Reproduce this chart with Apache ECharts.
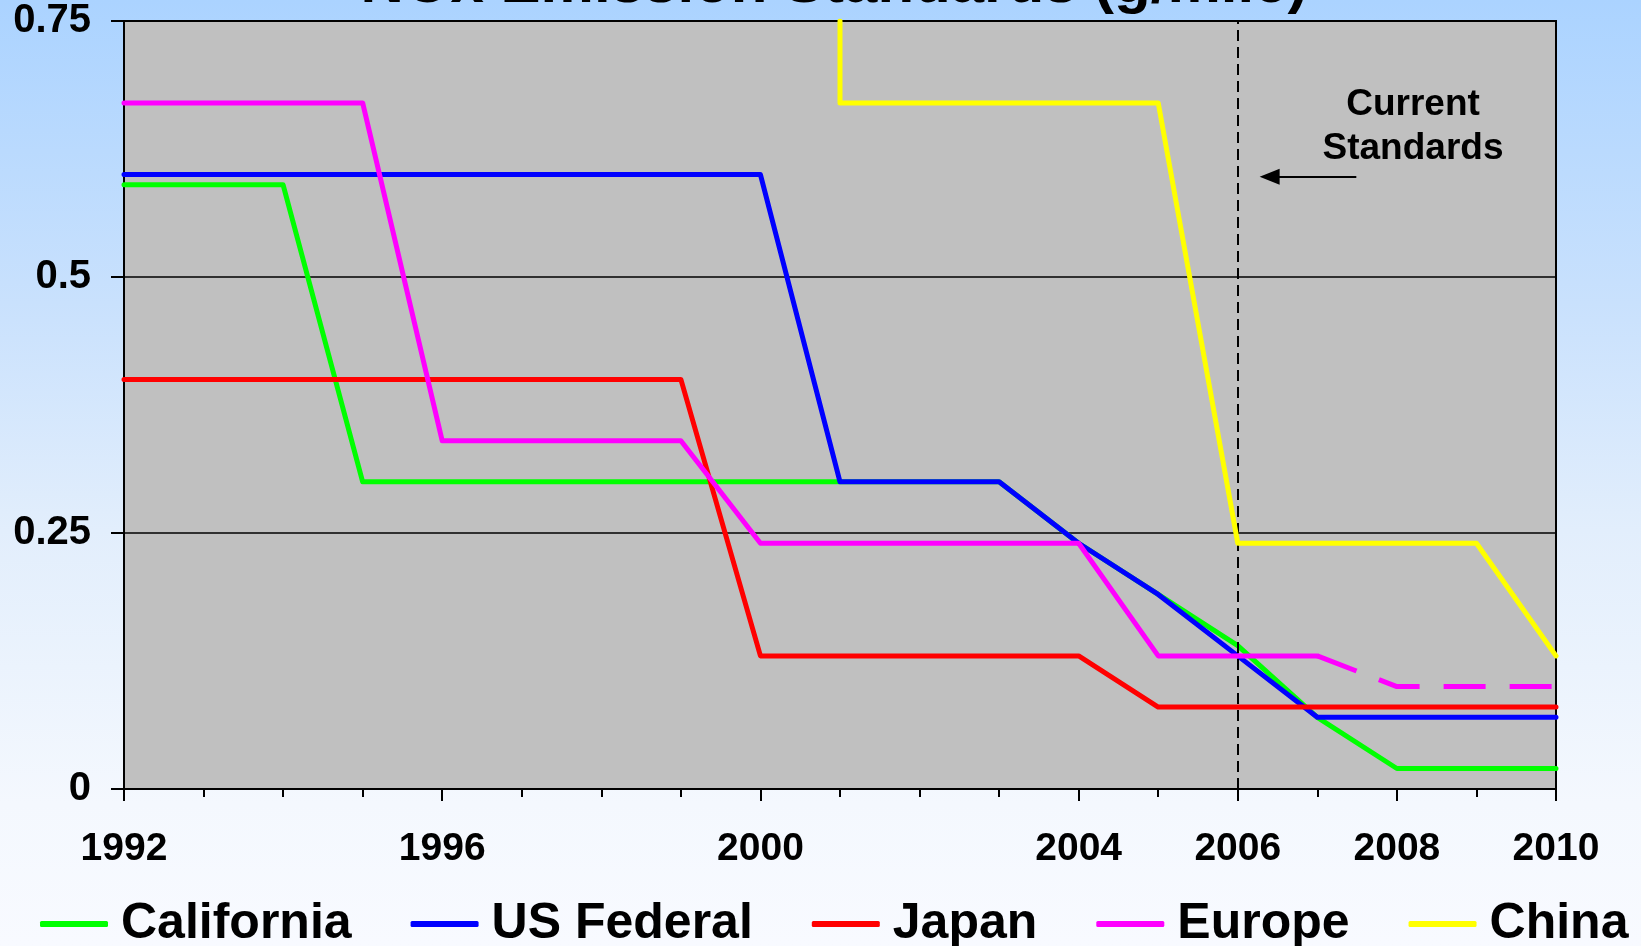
<!DOCTYPE html>
<html>
<head>
<meta charset="utf-8">
<title>NOx Emission Standards (g/mile)</title>
<script src="https://cdn.jsdelivr.net/npm/echarts@6/dist/echarts.min.js"></script>
<style>
  html, body { margin: 0; padding: 0; }
  #chart { width: 1641px; height: 946px; }
</style>
</head>
<body>
<div id="chart"></div>
<script>
// NOx standards by region, g/mile, keyed by model year
const caYears = [1992, 1994, 1995, 2001, 2003, 2004, 2005, 2006, 2007, 2008, 2010];
const caValues = [0.59, 0.59, 0.30, 0.30, 0.30, 0.24, 0.19, 0.14, 0.07, 0.02, 0.02];

const usYears = [1992, 2000, 2001, 2003, 2004, 2005, 2006, 2007, 2010];
const usValues = [0.60, 0.60, 0.30, 0.30, 0.24, 0.19, 0.13, 0.07, 0.07];

const jpYears = [1992, 1999, 2000, 2004, 2005, 2010];
const jpValues = [0.40, 0.40, 0.13, 0.13, 0.08, 0.08];

const euYears = [1992, 1995, 1996, 1999, 2000, 2004, 2005, 2007];
const euValues = [0.67, 0.67, 0.34, 0.34, 0.24, 0.24, 0.13, 0.13];

// proposed European limits (drawn dashed)
const euNextYears = [2007, 2008, 2010];
const euNextValues = [0.13, 0.10, 0.10];

const cnYears = [2001, 2001, 2005, 2006, 2009, 2010];
const cnValues = [0.75, 0.67, 0.67, 0.24, 0.24, 0.13];

const yearLabels = [1992, 1996, 2000, 2004, 2006, 2008, 2010];
const currentYear = 2006;

const pairs = (xs, ys) => xs.map((x, i) => [x, ys[i]]);

const FONT = '"Liberation Sans", Arial, sans-serif';
const LINE_W = 5;

const lineSeries = (name, color, xs, ys, extra) => Object.assign({
  name: name,
  type: 'line',
  data: pairs(xs, ys),
  symbol: 'none',
  showSymbol: false,
  clip: true,
  animation: false,
  lineStyle: { color: color, width: LINE_W, join: 'round', cap: 'round' },
  itemStyle: { color: color }
}, extra || {});

const chart = echarts.init(document.getElementById('chart'), null, { renderer: 'canvas' });

const option = {
  animation: false,
  backgroundColor: {
    type: 'linear', x: 0, y: 0, x2: 0, y2: 1,
    colorStops: [
      { offset: 0, color: '#ABD3FF' },
      { offset: 0.32, color: '#C9E1FD' },
      { offset: 0.56, color: '#E2EEFC' },
      { offset: 0.85, color: '#F4F8FE' },
      { offset: 1, color: '#F8FAFF' }
    ]
  },
  graphic: [
    {
      type: 'text',
      silent: true,
      z: 0,
      style: {
        text: 'NOx Emission Standards (g/mile)',
        x: 834,
        y: 15,
        align: 'center',
        verticalAlign: 'bottom',
        font: 'bold 60px ' + FONT,
        fill: '#000'
      }
    },
    {
      type: 'text',
      silent: true,
      style: {
        text: 'Current\nStandards',
        x: 1413,
        y: 127,
        align: 'center',
        verticalAlign: 'middle',
        font: 'bold 37px ' + FONT,
        lineHeight: 44,
        fill: '#000'
      }
    }
  ],
  grid: {
    left: 124,
    right: 85,
    top: 21,
    bottom: 157,
    show: true,
    backgroundColor: '#C0C0C0',
    borderColor: '#000',
    borderWidth: 2
  },
  legend: {
    left: 35,
    top: 894,
    width: 1600,
    icon: 'roundRect',
    itemWidth: 68,
    itemHeight: 6,
    itemGap: 59,
    textStyle: {
      fontFamily: FONT,
      fontWeight: 'bold',
      fontSize: 50,
      color: '#000',
      padding: [0, 0, 0, 8]
    },
    data: ['California', 'US Federal', 'Japan', 'Europe', 'China']
  },
  xAxis: [
    {
      type: 'value',
      min: 1992,
      max: 2010,
      interval: 1,
      position: 'bottom',
      axisLine: { show: true, lineStyle: { color: '#000', width: 2 } },
      axisTick: { show: true, inside: false, length: 8, lineStyle: { color: '#000', width: 2 } },
      splitLine: { show: false },
      axisLabel: {
        customValues: yearLabels,
        margin: 41,
        fontFamily: FONT,
        fontWeight: 'bold',
        fontSize: 39,
        color: '#000',
        formatter: v => String(v)
      }
    },
    {
      type: 'value',
      min: 1992,
      max: 2010,
      position: 'bottom',
      axisLine: { show: false },
      axisTick: { show: true, length: 12, customValues: yearLabels, lineStyle: { color: '#000', width: 2 } },
      axisLabel: { show: false },
      splitLine: { show: false }
    }
  ],
  yAxis: {
    type: 'value',
    min: 0,
    max: 0.75,
    interval: 0.25,
    axisLine: { show: true, lineStyle: { color: '#000', width: 2 } },
    axisTick: { show: true, length: 13, lineStyle: { color: '#000', width: 2 } },
    splitLine: { show: true, lineStyle: { color: '#000', width: 1.5 } },
    axisLabel: {
      margin: 33,
      fontFamily: FONT,
      fontWeight: 'bold',
      fontSize: 40,
      color: '#000'
    }
  },
  series: [
    lineSeries('California', '#00FF00', caYears, caValues, { z: 3 }),
    lineSeries('US Federal', '#0000FF', usYears, usValues, { z: 4 }),
    lineSeries('Japan', '#FF0000', jpYears, jpValues, { z: 5 }),
    lineSeries('Europe', '#FF00FF', euYears, euValues, { z: 6 }),
    lineSeries('Europe', '#FF00FF', euNextYears, euNextValues, {
      z: 6,
      lineStyle: { color: '#FF00FF', width: LINE_W, type: [42, 24], join: 'round' }
    }),
    lineSeries('China', '#FFFF00', cnYears, cnValues, {
      z: 7,
      markLine: {
        silent: true,
        animation: false,
        symbol: ['none', 'none'],
        label: { show: false },
        lineStyle: { color: '#000', width: 2, type: [11, 6] },
        data: [
          { xAxis: currentYear },
          [
            { coord: [2007.49, 0.598], symbol: 'none' },
            { coord: [2006.40, 0.598], symbol: 'triangle', symbolSize: [16, 20],
              lineStyle: { type: 'solid', width: 2, color: '#000' } }
          ]
        ]
      }
    })
  ]
};

chart.setOption(option);
</script>
</body>
</html>
